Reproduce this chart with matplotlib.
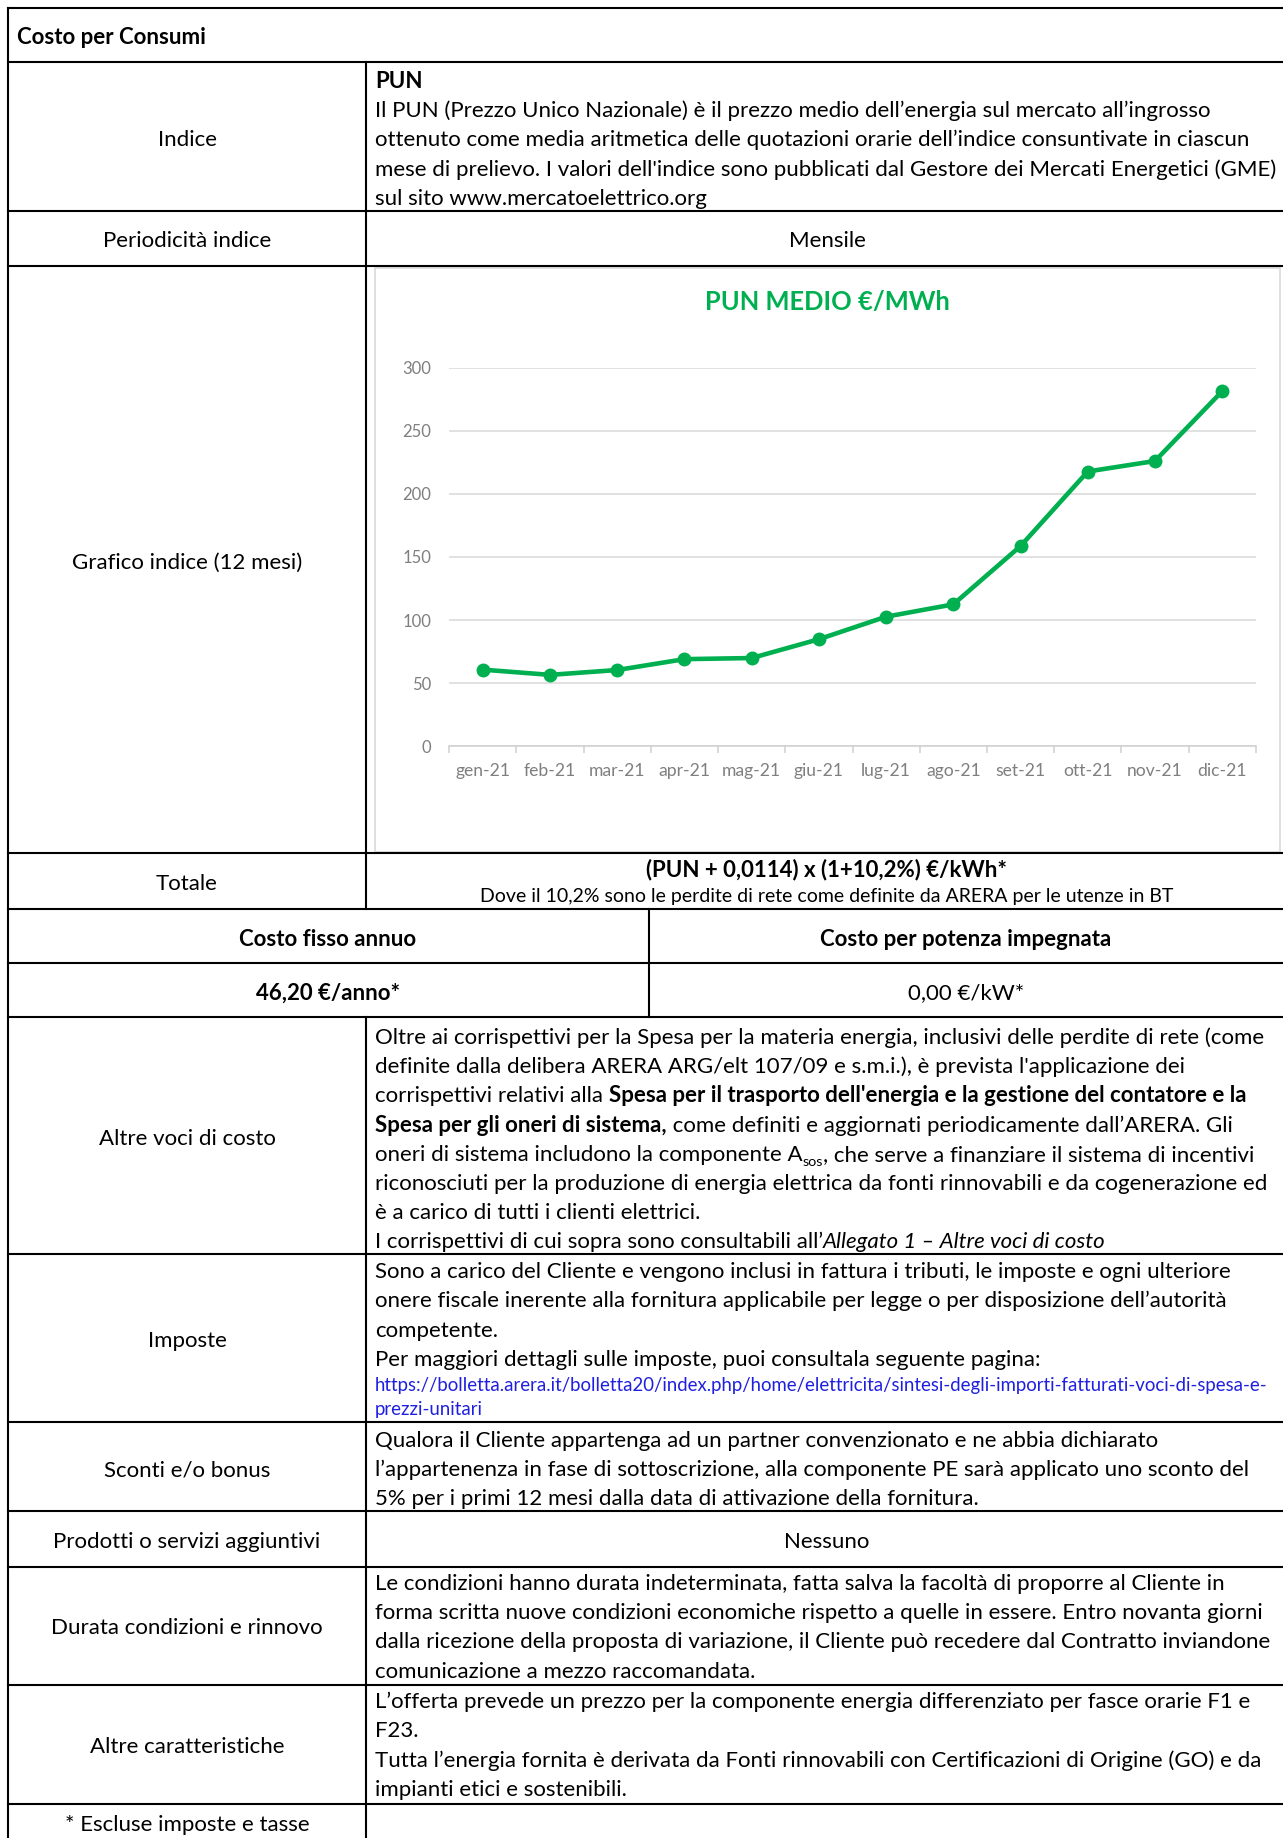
import matplotlib
matplotlib.use("Agg")
import matplotlib.pyplot as plt
from matplotlib.patches import Rectangle

plt.rcParams['font.family'] = ['Lato', 'DejaVu Sans']

# dati del grafico
mesi = ["gen-21", "feb-21", "mar-21", "apr-21", "mag-21", "giu-21",
        "lug-21", "ago-21", "set-21", "ott-21", "nov-21", "dic-21"]
pun = [60.71, 56.57, 60.42, 69.02, 69.91, 84.80,
       102.65, 112.40, 158.59, 217.63, 225.95, 281.24]
pun_ticks = [0, 50, 100, 150, 200, 250, 300]
titolo_grafico = "PUN MEDIO €/MWh"

# testi della tabella
etichette = ["Indice", "Periodicità indice", "Grafico indice (12 mesi)", "Totale",
             "Altre voci di costo", "Imposte", "Sconti e/o bonus",
             "Prodotti o servizi aggiuntivi", "Durata condizioni e rinnovo",
             "Altre caratteristiche", "* Escluse imposte e tasse"]
etichette_y = [138, 239, 560, 882, 1137, 1339, 1468, 1540, 1626, 1745, 1823]

indice = [
    [("PUN", "b")],
    "Il PUN (Prezzo Unico Nazionale) è il prezzo medio dell’energia sul mercato all’ingrosso",
    "ottenuto come media aritmetica delle quotazioni orarie dell’indice consuntivate in ciascun",
    "mese di prelievo. I valori dell'indice sono pubblicati dal Gestore dei Mercati Energetici (GME)",
    "sul sito www.mercatoelettrico.org",
]
altre_voci = [
    "Oltre ai corrispettivi per la Spesa per la materia energia, inclusivi delle perdite di rete (come",
    "definite dalla delibera ARERA ARG/elt 107/09 e s.m.i.), è prevista l'applicazione dei",
    [("corrispettivi relativi alla ", "n"),
     ("Spesa per il trasporto dell'energia e la gestione del contatore e la", "b")],
    [("Spesa per gli oneri di sistema,", "b"),
     (" come definiti e aggiornati periodicamente dall’ARERA. Gli", "n")],
    [("oneri di sistema includono la componente A", "n"), ("sos", "sub"),
     (", che serve a finanziare il sistema di incentivi", "n")],
    "riconosciuti per la produzione di energia elettrica da fonti rinnovabili e da cogenerazione ed",
    "è a carico di tutti i clienti elettrici.",
    [("I corrispettivi di cui sopra sono consultabili all’", "n"),
     ("Allegato 1 – Altre voci di costo", "i")],
]
imposte = [
    "Sono a carico del Cliente e vengono inclusi in fattura i tributi, le imposte e ogni ulteriore",
    "onere fiscale inerente alla fornitura applicabile per legge o per disposizione dell’autorità",
    "competente.",
    "Per maggiori dettagli sulle imposte, puoi consultala seguente pagina:",
]
link = [
    "https://bolletta.arera.it/bolletta20/index.php/home/elettricita/sintesi-degli-importi-fatturati-voci-di-spesa-e-",
    "prezzi-unitari",
]
sconti = [
    "Qualora il Cliente appartenga ad un partner convenzionato e ne abbia dichiarato",
    "l’appartenenza in fase di sottoscrizione, alla componente PE sarà applicato uno sconto del",
    "5% per i primi 12 mesi dalla data di attivazione della fornitura.",
]
durata = [
    "Le condizioni hanno durata indeterminata, fatta salva la facoltà di proporre al Cliente in",
    "forma scritta nuove condizioni economiche rispetto a quelle in essere. Entro novanta giorni",
    "dalla ricezione della proposta di variazione, il Cliente può recedere dal Contratto inviandone",
    "comunicazione a mezzo raccomandata.",
]
caratteristiche = [
    "L’offerta prevede un prezzo per la componente energia differenziato per fasce orarie F1 e",
    "F23.",
    "Tutta l’energia fornita è derivata da Fonti rinnovabili con Certificazioni di Origine (GO) e da",
    "impianti etici e sostenibili.",
]

W, H = 1283, 1838
BODY = 16
fig = plt.figure(figsize=(W / 100, H / 100), dpi=100)
bg = fig.add_axes([0, 0, 1, 1])
bg.set_xlim(0, W)
bg.set_ylim(H, 0)
bg.axis('off')
renderer = fig.canvas.get_renderer()


def stile(st, size):
    if st == "b":
        return dict(size=size, weight="bold")
    if st == "i":
        return dict(size=size, style="italic")
    if st == "sub":
        return dict(size=size * 0.65)
    return dict(size=size)


def larghezza(t, st, size):
    a = bg.text(0, 0, "|" + t + "|", **stile(st, size))
    b = bg.text(0, 0, "||", **stile(st, size))
    w = a.get_window_extent(renderer).width - b.get_window_extent(renderer).width
    a.remove()
    b.remove()
    return w


def riga(x, yc, line, size=BODY, color="black", ha="left"):
    if isinstance(line, str):
        line = [(line, "n")]
    base = yc + 0.38 * size * 100 / 72
    if ha == "center":
        x = x - sum(larghezza(t, st, size) for t, st in line) / 2
    for t, st in line:
        dy = 5 if st == "sub" else 0
        bg.text(x, base + dy, t, color=color, va="baseline", ha="left", **stile(st, size))
        x += larghezza(t, st, size)


def paragrafo(x, ys, lines, **kw):
    for yc, line in zip(ys, lines):
        riga(x, yc, line, **kw)


# linee della tabella
for y in [8, 62, 211, 266, 853, 909, 963, 1017, 1254, 1422, 1511, 1567, 1685, 1804]:
    bg.plot([8, W], [y, y], color="black", lw=1.5, solid_capstyle="projecting")
bg.plot([8, 8], [8, H], color="black", lw=1.5)
bg.plot([366, 366], [62, 909], color="black", lw=1.5)
bg.plot([366, 366], [1017, H], color="black", lw=1.5)
bg.plot([649, 649], [909, 1017], color="black", lw=1.5)

# colonna sinistra
riga(17, 36, [("Costo per Consumi", "b")])
for lab, y in zip(etichette, etichette_y):
    riga(187, y, lab, ha="center")

# colonna destra
XR = 375
XC = 827
paragrafo(XR, [80, 109, 138, 167.5, 197], indice)
riga(XC, 239, "Mensile", ha="center")
riga(XC, 868, [("(PUN + 0,0114) x (1+10,2%) €/kWh*", "b")], ha="center")
riga(XC, 895, "Dove il 10,2% sono le perdite di rete come definite da ARERA per le utenze in BT",
     size=14, ha="center")
riga(328, 938, [("Costo fisso annuo", "b")], ha="center")
riga(966, 938, [("Costo per potenza impegnata", "b")], ha="center")
riga(328, 991, [("46,20 €/anno*", "b")], ha="center")
riga(966, 991, "0,00 €/kW*", ha="center")
paragrafo(XR, [1036, 1065, 1094, 1124, 1153, 1182, 1211, 1240], altre_voci)
paragrafo(XR, [1270, 1299, 1329, 1358], imposte)
paragrafo(XR, [1384, 1408], link, size=13.4, color="#1f1fe0")
paragrafo(XR, [1439, 1468, 1497], sconti)
riga(XC, 1540, "Nessuno", ha="center")
paragrafo(XR, [1582, 1611, 1640, 1670], durata)
paragrafo(XR, [1700, 1729, 1759, 1788], caratteristiche)

# grafico
bg.add_patch(Rectangle((375, 268), 905, 584, facecolor="white", edgecolor="#d9d9d9", lw=1.2))
bg.text(827, 302, titolo_grafico, ha="center", va="center", color="#00B050",
        weight="bold", size=18.4)

x0, x1, y0, y1 = 449.2, 1255.8, 746.3, 367.5
ax = fig.add_axes([x0 / W, (H - y0) / H, (x1 - x0) / W, (y0 - y1) / H])
ax.patch.set_alpha(0)
pos = list(range(len(mesi)))
ax.plot(pos, pun, color="#00B050", lw=3.3, marker="o", ms=9, zorder=3)
ax.set_xlim(-0.5, len(mesi) - 0.5)
ax.set_ylim(0, 300)
ax.set_yticks(pun_ticks)
ax.set_yticklabels([str(v) for v in pun_ticks])
ax.set_xticks(pos)
ax.set_xticklabels(mesi)
ax.set_xticks([p - 0.5 for p in pos] + [len(mesi) - 0.5], minor=True)
ax.grid(axis="y", color="#d9d9d9", lw=1.1)
ax.set_axisbelow(True)
for s in ["left", "right", "top"]:
    ax.spines[s].set_visible(False)
ax.spines["bottom"].set_color("#d0d0d0")
ax.spines["bottom"].set_linewidth(1.1)
ax.tick_params(axis="y", length=0, pad=13, labelsize=12, labelcolor="#7f7f7f")
ax.tick_params(axis="x", which="major", length=0, pad=12, labelsize=12.6, labelcolor="#7f7f7f")
ax.tick_params(axis="x", which="minor", length=5, width=1.1, color="#d0d0d0")

fig.savefig("out.png", dpi=100)
